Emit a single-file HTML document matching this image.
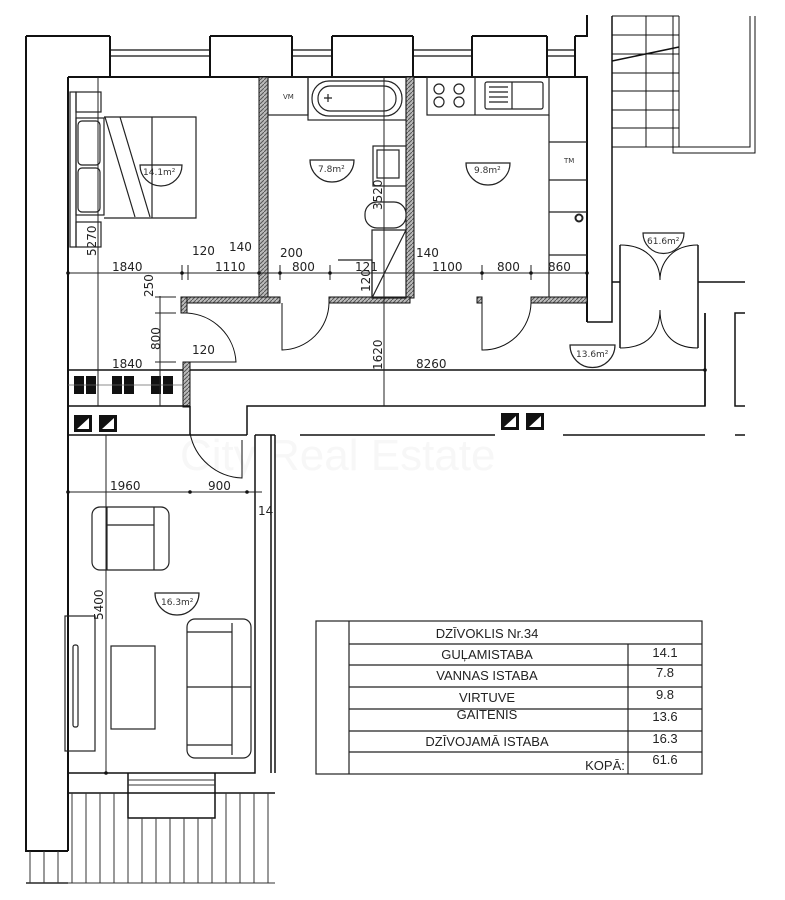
<!DOCTYPE html>
<html><head><meta charset="utf-8"><style>
html,body{margin:0;padding:0;background:#fff;}
svg{display:block;font-family:"DejaVu Sans","Liberation Sans",sans-serif;}
.t{font-size:12px;fill:#222;}
.s{font-size:9px;fill:#333;}
.tb{font-family:"Liberation Sans",sans-serif;font-size:13px;fill:#222;}
</style></head><body>
<svg width="785" height="900" viewBox="0 0 785 900" xmlns="http://www.w3.org/2000/svg">
<defs>
<pattern id="h" width="4" height="4" patternUnits="userSpaceOnUse"><rect width="4" height="4" fill="#bbb"/><path d="M0 4L4 0" stroke="#555" stroke-width="1"/></pattern>
</defs>
<rect width="785" height="900" fill="#fff"/>
<text x="180" y="470" font-family="Liberation Sans" font-size="44" fill="#f7f7f7">City Real Estate</text>
<g fill="none" stroke="#111" stroke-width="2">
<path d="M26 36V851H68"/>
<path d="M26 36H110"/>
<path d="M68 77V851"/>
<path d="M110 36V77M210 36V77M292 36V77M332 36V77M413 36V77M472 36V77M547 36V77M575 36V77"/>
<path d="M210 36H292M332 36H413M472 36H547M575 36H587V15"/>
<path d="M68 77H587V322"/>
</g>
<g stroke="#111" stroke-width="1.2">
<path d="M110 50H210M110 56H210M292 50H332M292 56H332M413 50H472M413 56H472M547 50H575M547 56H575"/>
</g>
<rect x="259" y="77" width="9" height="221" fill="url(#h)" stroke="#111"/>
<rect x="406" y="77" width="8" height="221" fill="url(#h)" stroke="#111"/>
<rect x="181" y="297" width="99" height="6" fill="url(#h)" stroke="#111"/>
<rect x="329" y="297" width="81" height="6" fill="url(#h)" stroke="#111"/>
<rect x="477" y="297" width="5" height="6" fill="url(#h)" stroke="#111"/>
<rect x="531" y="297" width="56" height="6" fill="url(#h)" stroke="#111"/>
<rect x="181" y="297" width="6" height="16" fill="url(#h)" stroke="#111"/>
<rect x="183" y="362" width="7" height="45" fill="url(#h)" stroke="#111"/>
<g fill="none" stroke="#111" stroke-width="1.5">
<path d="M190 370H705M705 313V406H247V435"/>
<path d="M68 406H190M190 406V435"/>
<path d="M187 313 A52 52 0 0 1 236 362 H187" stroke-width="1"/>
<path d="M282 303V350 A48 48 0 0 0 329 303" stroke-width="1"/>
<path d="M482 303V350 A48 48 0 0 0 531 303" stroke-width="1"/>
<path d="M190 433 A55 55 0 0 0 242 478 V440" stroke-width="1"/>
<path d="M587 322H612V282H620M612 282V16"/>
<path d="M620 245V348M698 245V348M698 282H745M705 313V406M745 313H735V406H745"/>
<path d="M620 245C650 245 660 265 660 280M698 245C670 245 660 265 660 280M620 348C650 348 660 330 660 310M698 348C670 348 660 330 660 310" stroke-width="1"/>
<path d="M646 16V147M679 16V147M612 16H679M612 35H679M612 54H679M612 73H679M612 91H679M612 110H679M612 128H679M612 147H679" stroke-width="1"/>
<path d="M673 16V153H755V16M679 16V147H750V16" stroke-width="1"/>
<path d="M612 61L679 47" stroke-width="1.5"/>
<path d="M68 435H247M255 435V773H68M275 435V773M271 435V773M255 435H275"/>
<path d="M300 435H495M563 435H705M735 435H745"/>
<path d="M68 793H275M128 773V818H215V773M68 883H26"/>
</g>
<g stroke="#333" stroke-width="1">
<path d="M72 793V883M86 793V883M100 793V883M114 793V883M128 818V883M142 818V883M156 818V883M170 818V883M184 818V883M198 818V883M212 818V883M226 793V883M240 793V883M254 793V883M268 793V883M30 851V883M44 851V883M58 851V883"/>
<path d="M26 883H275M128 780H215M128 785H215"/>
</g>
<g fill="none" stroke="#222" stroke-width="1.2">
<rect x="70" y="92" width="6" height="155"/>
<rect x="76" y="92" width="25" height="20"/>
<rect x="76" y="222" width="25" height="25"/>
<rect x="76" y="118" width="28" height="97"/>
<rect x="78" y="121" width="22" height="44" rx="4"/>
<rect x="78" y="168" width="22" height="44" rx="4"/>
<path d="M104 117H196V218H104M105 117L135 217M120 117L150 217M152 117V218M152 117V130"/>
<path d="M140 165H182A21 21 0 0 1 140 165Z"/>
<rect x="268" y="77" width="40" height="38"/>
<rect x="308" y="77" width="98" height="43"/>
<rect x="312" y="81" width="90" height="35" rx="17"/>
<rect x="318" y="86" width="78" height="25" rx="12"/>
<path d="M324 98H332M328 94V102"/>
<rect x="373" y="146" width="33" height="40"/>
<rect x="377" y="150" width="22" height="28"/>
<rect x="365" y="202" width="41" height="26" rx="12"/>
<path d="M372 230H406V298H372ZM372 298L406 230"/>
<path d="M338 260H372V298" />
<path d="M310 160H354A22 22 0 0 1 310 160Z"/>
<rect x="427" y="77" width="122" height="38"/>
<path d="M475 77V115"/>
<rect x="485" y="82" width="58" height="27" rx="2"/>
<path d="M512 82V109M489 87H508M489 92H508M489 97H508M489 102H508"/>
<circle cx="439" cy="89" r="5"/><circle cx="459" cy="89" r="5"/><circle cx="439" cy="102" r="5"/><circle cx="459" cy="102" r="5"/>
<path d="M549 115V297M549 142H587M549 180H587M549 212H587M549 255H587"/>
<circle cx="579" cy="218" r="3.5" stroke-width="2"/>
<path d="M466 163H510A22 22 0 0 1 466 163Z"/>
<path d="M570 345H615A22 22 0 0 1 570 345Z"/>
<path d="M643 233H684A20 20 0 0 1 643 233Z"/>
<rect x="92" y="507" width="77" height="63" rx="8"/>
<path d="M107 507V570M154 507V570M107 525H154"/>
<rect x="65" y="616" width="30" height="135"/>
<rect x="73" y="645" width="5" height="82" rx="2"/>
<rect x="111" y="646" width="44" height="83"/>
<rect x="187" y="619" width="64" height="139" rx="8"/>
<path d="M187 687H251M232 623V755M187 632H232M187 745H232"/>
<path d="M155 593H199A22 22 0 0 1 155 593Z"/>
</g>
<g fill="#111">
<rect x="74" y="376" width="10" height="18"/><rect x="86" y="376" width="10" height="18"/>
<rect x="112" y="376" width="10" height="18"/><rect x="124" y="376" width="10" height="18"/>
<rect x="151" y="376" width="10" height="18"/><rect x="163" y="376" width="10" height="18"/>
<rect x="74" y="415" width="18" height="17"/><rect x="99" y="415" width="18" height="17"/>
<rect x="501" y="413" width="18" height="17"/><rect x="526" y="413" width="18" height="17"/>
</g>
<g fill="#fff"><path d="M77 429L89 418V429Z M102 429L114 418V429Z M504 427L516 416V427Z M529 427L541 416V427Z"/></g>
<path d="M68 370H183" stroke="#111" stroke-width="1.5"/>
<path d="M68 385H183" stroke="#666" stroke-width="0.8"/>
<g stroke="#222" stroke-width="1" fill="none">
<path d="M68 273H587M98 77V406M160 296V406M384 77V406M106 435V773M68 492H262M384 370V406"/>
<path d="M182 265V280M188 265V280M259 265V280M280 265V280M330 265V280M482 265V280M531 265V280"/>
<path d="M155 297H176M155 313H176M155 362H176"/>
</g>
<g fill="#111">
<circle cx="68" cy="273" r="1.8"/><circle cx="182" cy="273" r="1.8"/><circle cx="259" cy="273" r="1.8"/><circle cx="280" cy="273" r="1.8"/><circle cx="330" cy="273" r="1.8"/><circle cx="482" cy="273" r="1.8"/><circle cx="531" cy="273" r="1.8"/><circle cx="587" cy="273" r="1.8"/>
<circle cx="68" cy="492" r="1.8"/><circle cx="190" cy="492" r="1.8"/><circle cx="247" cy="492" r="1.8"/><circle cx="106" cy="773" r="1.8"/><circle cx="705" cy="370" r="1.8"/>
</g>
<g class="t">
<text x="112" y="271">1840</text><text x="215" y="271">1110</text><text x="292" y="271">800</text><text x="432" y="271">1100</text><text x="497" y="271">800</text><text x="548" y="271">860</text>
<text x="192" y="255">120</text><text x="229" y="251">140</text><text x="280" y="257">200</text><text x="416" y="257">140</text><text x="355" y="271">121</text>
<text x="112" y="368">1840</text><text x="192" y="354">120</text><text x="416" y="368">8260</text>
<text x="110" y="490">1960</text><text x="208" y="490">900</text><text x="258" y="515">14</text>
<text transform="translate(153 297) rotate(-90)">250</text>
<text transform="translate(160 350) rotate(-90)">800</text>
<text transform="translate(382 370) rotate(-90)">1620</text>
<text transform="translate(382 210) rotate(-90)">3520</text>
<text transform="translate(370 292) rotate(-90)">120</text>
<text transform="translate(96 256) rotate(-90)">5270</text>
<text transform="translate(103 620) rotate(-90)">5400</text>
</g>
<g class="s">
<text x="143" y="175">14.1m²</text><text x="318" y="172">7.8m²</text><text x="474" y="173">9.8m²</text>
<text x="576" y="357">13.6m²</text><text x="647" y="244">61.6m²</text><text x="161" y="605">16.3m²</text>
<text x="283" y="99" font-size="7">VM</text><text x="564" y="163" font-size="7">TM</text>
</g>
<g fill="none" stroke="#222" stroke-width="1.2">
<rect x="316" y="621" width="386" height="153"/>
<path d="M349 621V774M349 644H702M349 665H702M349 687H702M349 709H702M349 731H702M349 752H702M628 644V774"/>
</g>
<g class="tb" text-anchor="middle">
<text x="487" y="638">DZĪVOKLIS Nr.34</text>
<text x="487" y="659">GUĻAMISTABA</text>
<text x="487" y="680">VANNAS ISTABA</text>
<text x="487" y="702">VIRTUVE</text>
<text x="487" y="719">GAITENIS</text>
<text x="487" y="746">DZĪVOJAMĀ ISTABA</text>
<text x="605" y="770">KOPĀ:</text>
<text x="665" y="657">14.1</text><text x="665" y="677">7.8</text><text x="665" y="699">9.8</text><text x="665" y="721">13.6</text><text x="665" y="743">16.3</text><text x="665" y="764">61.6</text>
</g>
</svg>
</body></html>
